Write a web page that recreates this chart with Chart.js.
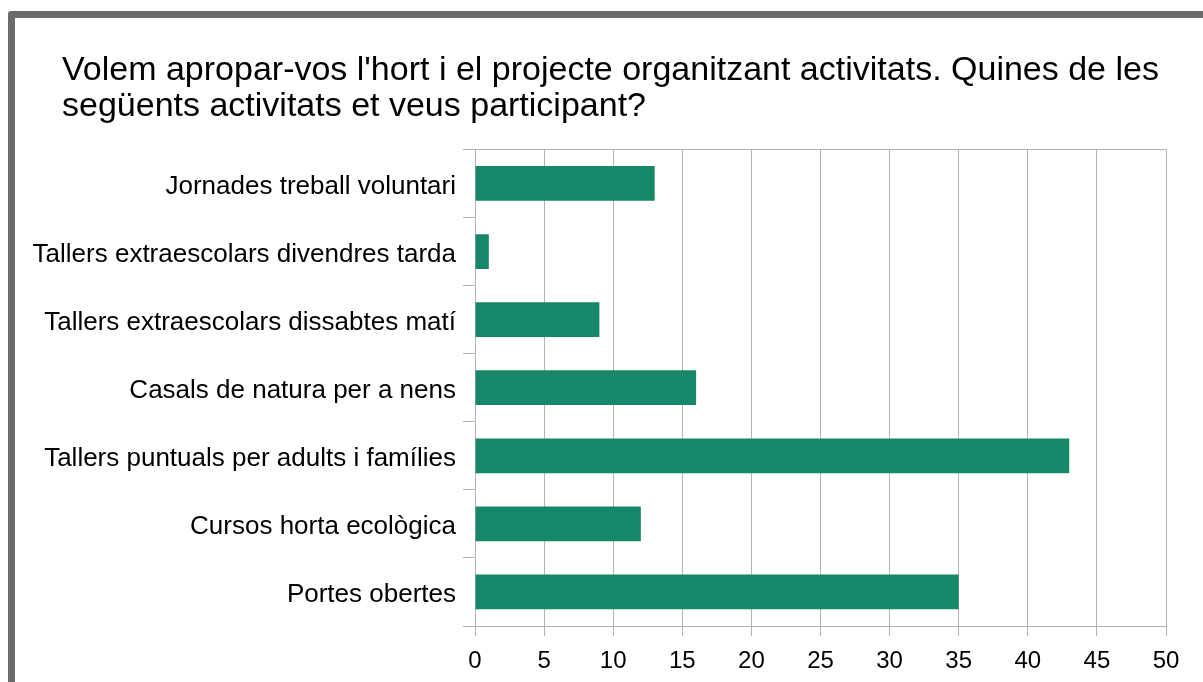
<!DOCTYPE html>
<html>
<head>
<meta charset="utf-8">
<script src="https://cdn.jsdelivr.net/npm/chart.js@4"></script>
<style>
  html, body { margin: 0; padding: 0; background: #fff; }
  #frame {
    position: absolute; left: 8px; top: 11px; width: 1220px; height: 700px;
    border: 7px solid #6b6b6b; border-radius: 3px; box-sizing: border-box;
  }
  #wrap { position: absolute; left: 0; top: 0; width: 1203px; height: 682px; }
</style>
</head>
<body>
<div id="frame"></div>
<div id="wrap"><canvas id="chart"></canvas></div>
<script>
var titleLines = [
    "Volem apropar-vos l'hort i el projecte organitzant activitats. Quines de les",
    "següents activitats et veus participant?"
];
var activitats = [
    "Jornades treball voluntari",
    "Tallers extraescolars divendres tarda",
    "Tallers extraescolars dissabtes matí",
    "Casals de natura per a nens",
    "Tallers puntuals per adults i famílies",
    "Cursos horta ecològica",
    "Portes obertes"
];
var respostes = [13, 1, 9, 16, 43, 12, 35];
var xTicks = [0, 5, 10, 15, 20, 25, 30, 35, 40, 45, 50];

var gridGray = "#b3b3b3";

// the title starts further right than the category labels
var titleIndent = {
    id: "titleIndent",
    afterLayout: function(chart) {
        if (chart.titleBlock) chart.titleBlock.left = 62;
    }
};

const config = {
    type: "bar",
    data: {
        labels: activitats,
        datasets: [{
            data: respostes,
            backgroundColor: "#17876a",
            barPercentage: 0.51,
            categoryPercentage: 1
        }]
    },
    options: {
        indexAxis: "y",
        responsive: false,
        animation: false,
        layout: { padding: { left: 16, right: 37, top: 0, bottom: 0 } },
        scales: {
            x: {
                min: 0,
                max: 50,
                afterBuildTicks: function(axis) {
                    axis.ticks = xTicks.map(function(v) { return { value: v }; });
                },
                afterFit: function(axis) { axis.height = 56; },
                grid: { color: gridGray, tickLength: 10, lineWidth: 1 },
                border: { color: gridGray },
                ticks: {
                    color: "#000",
                    padding: 11,
                    font: { family: "Liberation Sans", size: 24 }
                }
            },
            y: {
                afterFit: function(axis) { axis.width = 459; },
                grid: {
                    offset: true,
                    tickLength: 12,
                    tickColor: gridGray,
                    color: function(ctx) { return ctx.index === 0 ? gridGray : "transparent"; }
                },
                border: { color: gridGray },
                ticks: {
                    color: "#000",
                    padding: 7,
                    labelOffset: 3,
                    font: { family: "Liberation Sans", size: 26 }
                }
            }
        },
        plugins: {
            legend: { display: false },
            tooltip: { enabled: false },
            title: {
                display: true,
                text: titleLines,
                align: "start",
                color: "#000",
                font: { family: "Liberation Sans", size: 34, weight: "normal", lineHeight: 1.08 },
                padding: { top: 52, bottom: 24 }
            }
        }
    },
    plugins: [titleIndent]
};

var canvas = document.getElementById("chart");
canvas.width = 1203;
canvas.height = 682;
new Chart(canvas, config);
</script>
</body>
</html>
